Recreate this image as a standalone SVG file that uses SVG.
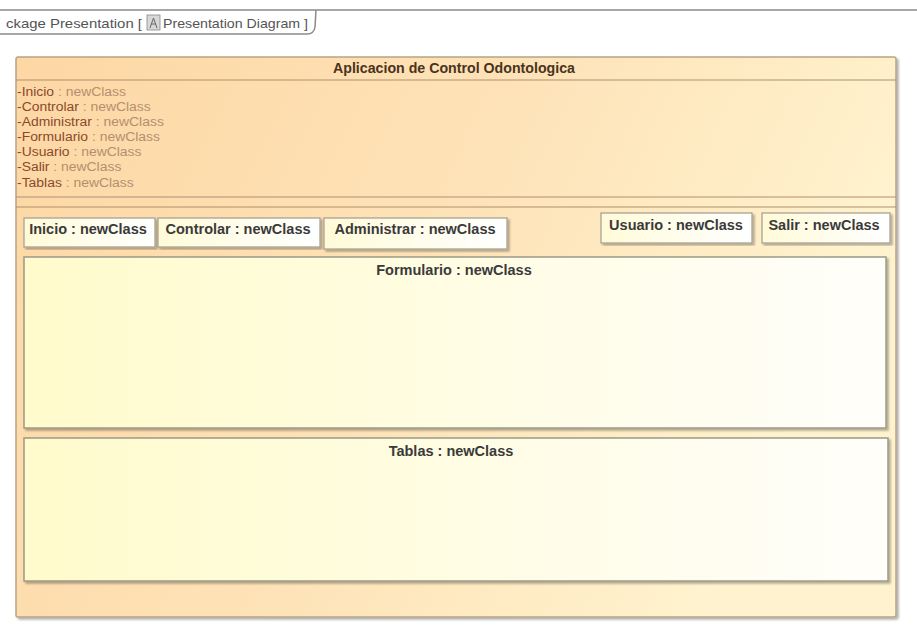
<svg xmlns="http://www.w3.org/2000/svg" width="917" height="633" viewBox="0 0 917 633">
<defs>
<linearGradient id="gMain" x1="0" y1="0" x2="1" y2="0.3">
<stop offset="0" stop-color="#fdd7a4"/>
<stop offset="0.55" stop-color="#fee3b8"/>
<stop offset="1" stop-color="#fff3cf"/>
</linearGradient>
<linearGradient id="gInner" x1="0" y1="0" x2="1" y2="0">
<stop offset="0" stop-color="#fffbcc"/>
<stop offset="1" stop-color="#fffefa"/>
</linearGradient>
<linearGradient id="gSmall" x1="0" y1="0" x2="1" y2="0">
<stop offset="0" stop-color="#fffbd8"/>
<stop offset="1" stop-color="#ffffff"/>
</linearGradient>
<filter id="sh" x="-5%" y="-5%" width="110%" height="115%">
<feDropShadow dx="2" dy="2" stdDeviation="1" flood-color="#000" flood-opacity="0.3"/>
</filter>
</defs>
<style>
.frame{fill:none;stroke:#8a8a8a;stroke-width:1.5}
.tab{font-family:"Liberation Sans",Arial,sans-serif;font-size:13px;fill:#555}
.main{fill:url(#gMain);stroke:#b8a483;stroke-width:1.5}
.sep{stroke:#b09070;stroke-width:1.2}
.inner{fill:url(#gInner);stroke:#9b9a88;stroke-width:1.5}
.small{fill:url(#gSmall);stroke:#a8a494;stroke-width:1.3}
.lbl{font-family:"Liberation Sans",Arial,sans-serif;font-size:14.5px;font-weight:bold;fill:#3a3a3a}
.title{font-family:"Liberation Sans",Arial,sans-serif;font-size:14.2px;font-weight:bold;fill:#4a3320}
.attr{font-family:"Liberation Sans",Arial,sans-serif;font-size:12px;fill:#8a4a2a}
.typ{fill:#b58e70}
</style>
<rect width="917" height="633" fill="#ffffff"/>
<g id="frame">
<line class="frame" x1="0" y1="10" x2="917" y2="10"/>
<path class="frame" d="M0 34 H307 Q314 34 315 27 L316 10"/>
<text class="tab" x="6" y="28" textLength="136" lengthAdjust="spacingAndGlyphs">ckage  Presentation [</text>
<rect x="147" y="15" width="13" height="15" fill="#d8d8d8" stroke="#888" stroke-width="0.8"/>
<path d="M150 28 L153.5 18 L157 28 M151 24 H156" stroke="#666" stroke-width="1" fill="none"/>
<text class="tab" x="163" y="28" textLength="145" lengthAdjust="spacingAndGlyphs">Presentation Diagram ]</text>
</g>
<g id="app">
<rect class="main" x="16" y="57" width="880" height="560" rx="2" filter="url(#sh)"/>
<text class="title" x="454" y="73" text-anchor="middle">Aplicacion de Control Odontologica</text>
<line class="sep" x1="16" y1="80" x2="896" y2="80"/>
<g transform="translate(17,0) scale(1.16,1)">
<text class="attr" x="0" y="96">-Inicio<tspan class="typ"> : newClass</tspan></text>
<text class="attr" x="0" y="111">-Controlar<tspan class="typ"> : newClass</tspan></text>
<text class="attr" x="0" y="126">-Administrar<tspan class="typ"> : newClass</tspan></text>
<text class="attr" x="0" y="141">-Formulario<tspan class="typ"> : newClass</tspan></text>
<text class="attr" x="0" y="156">-Usuario<tspan class="typ"> : newClass</tspan></text>
<text class="attr" x="0" y="171">-Salir<tspan class="typ"> : newClass</tspan></text>
<text class="attr" x="0" y="187">-Tablas<tspan class="typ"> : newClass</tspan></text>
</g>
<line class="sep" x1="16" y1="197" x2="896" y2="197"/>
<line class="sep" x1="16" y1="207" x2="896" y2="207"/>
</g>
<g id="inicio">
<rect class="small" x="24" y="218" width="131" height="29" filter="url(#sh)"/>
<text class="lbl" x="88" y="234" text-anchor="middle">Inicio : newClass</text>
</g>
<g id="controlar">
<rect class="small" x="158" y="218" width="162" height="29" filter="url(#sh)"/>
<text class="lbl" x="238" y="234" text-anchor="middle">Controlar : newClass</text>
</g>
<g id="administrar">
<rect class="small" x="324" y="218" width="183" height="31" filter="url(#sh)"/>
<text class="lbl" x="415" y="234" text-anchor="middle">Administrar : newClass</text>
</g>
<g id="usuario">
<rect class="small" x="601" y="213" width="151" height="30" filter="url(#sh)"/>
<text class="lbl" x="676" y="230" text-anchor="middle">Usuario : newClass</text>
</g>
<g id="salir">
<rect class="small" x="762" y="213" width="128" height="30" filter="url(#sh)"/>
<text class="lbl" x="824" y="230" text-anchor="middle">Salir : newClass</text>
</g>
<g id="formulario">
<rect class="inner" x="24" y="257" width="862" height="171" filter="url(#sh)"/>
<text class="lbl" x="454" y="275" text-anchor="middle">Formulario : newClass</text>
</g>
<g id="tablas">
<rect class="inner" x="24" y="438" width="864" height="143" filter="url(#sh)"/>
<text class="lbl" x="451" y="456" text-anchor="middle">Tablas : newClass</text>
</g>
<g id="connectors"/>
</svg>
